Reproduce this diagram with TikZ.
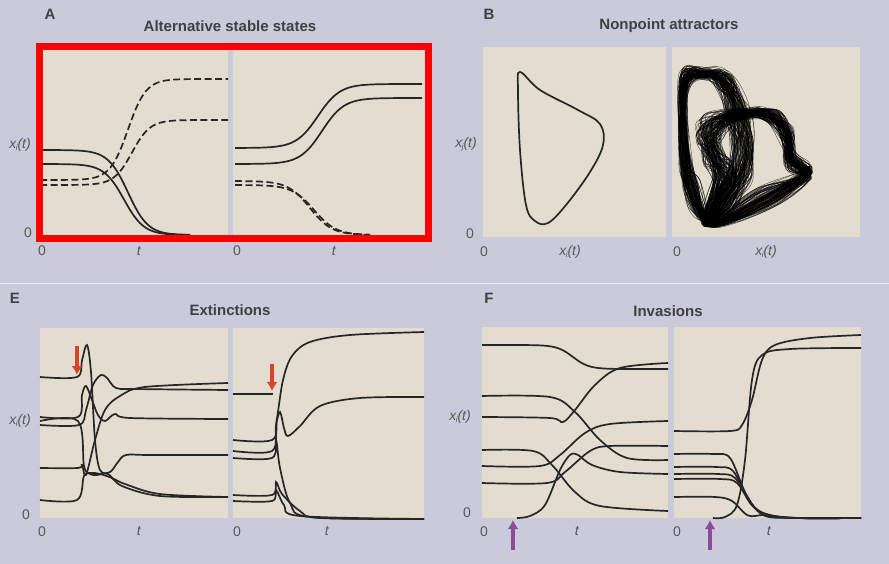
\documentclass[tikz,border=0pt]{standalone}
\usepackage{fontspec}
\setmainfont{Liberation Sans}
\usetikzlibrary{arrows.meta}
\newcommand\xlab[1]{\textit{x\kern-0.5pt\raisebox{-2pt}{\footnotesize #1}(t)}}
\begin{document}
\begin{tikzpicture}[x=1pt,y=-1pt,
  crv/.style={line width=1.7pt,draw=black!85},
  dsh/.style={crv,dash pattern=on 7pt off 3.5pt},
  lbl/.style={font=\fontsize{14}{14}\selectfont,text=black!65,inner sep=0pt},
  ttl/.style={font=\bfseries\fontsize{15}{15}\selectfont,text=black!75,inner sep=0pt},
  sm/.style={smooth,tension=0.55}]
\definecolor{bgc}{HTML}{CACADA}
\definecolor{panelbg}{HTML}{E3DDCF}
\definecolor{arr}{HTML}{D9432B}
\definecolor{parr}{HTML}{8E4A9B}
\useasboundingbox (0,0) rectangle (889,564);
\fill[bgc] (0,0) rectangle (889,564);
\draw[white!70!bgc,line width=1pt] (0,283) -- (889,283);
\newcommand\sigw[7]{\draw[#1] plot[domain=#2:#3,samples=70] (\x,{#4+(#5-#4)/(1+exp(min(max(-(\x-#6)/#7,-9),9)))});}
% panels
\foreach \a/\b/\c/\d in {40/47/228/235,233/47/427/235,483/47/666/237,672/47/860/237,40/328/228/518,233/328/424/518,482/327/668/518,674/327/861/518}
  \fill[panelbg] (\a,\b) rectangle (\c,\d);
% ===== A =====
\node[ttl] (la) at (50,14) {A};
\node[ttl] (ta) at (230,26) {Alternative stable states};
\sigw{crv}{40}{190}{150}{235}{128}{10}
\sigw{crv}{40}{190}{164}{235}{124}{10}
\sigw{dsh}{40}{228}{180}{79}{128}{9}
\sigw{dsh}{40}{228}{185}{120}{132}{9}
\sigw{crv}{235}{422}{148}{84}{318}{11}
\sigw{crv}{235}{422}{164}{98}{322}{11}
\sigw{dsh}{235}{370}{181}{235}{310}{11}
\sigw{dsh}{235}{370}{185}{235}{314}{11}
\draw[red,line width=7pt] (39,46.5) rectangle (428,239);
\node[lbl] (xa) at (20,145) {\xlab{i}};
\node[lbl] at (28,233) {0};
\node[lbl] at (42,251) {0};
\node[lbl] at (139,251) {\textit{t}};
\node[lbl] at (237,251) {0};
\node[lbl] at (334,251) {\textit{t}};
% ===== B =====
\node[ttl] (lb) at (489,14) {B};
\node[ttl] (tb) at (669,26) {Nonpoint attractors};
\draw[crv] plot[smooth cycle,tension=0.6] coordinates {(520,72)(540,90)(578,110)(600,124)(603,145)(590,172)(566,205)(548,223)(535,221)(526,205)(520,150)(518,90)};
\pgfmathsetseed{7}
\foreach \i in {1,...,110}{
 \draw[black,line width=0.35pt,opacity=0.75] plot[smooth cycle,tension=0.6] coordinates {({684+5*rand},{82+10*rand}) ({705+8*rand},{74+5*rand}) ({724+10*rand},{82+10*rand}) ({738+12*rand},{115+14*rand}) ({742+12*rand},{160+16*rand}) ({728+12*rand},{198+10*rand}) ({708+6*rand},{220+5*rand}) ({692+8*rand},{192+14*rand}) ({684+5*rand},{145+18*rand})};
 \draw[black,line width=0.35pt,opacity=0.75] plot[smooth cycle,tension=0.6] coordinates {({710+14*rand},{128+14*rand}) ({742+12*rand},{114+6*rand}) ({772+8*rand},{116+6*rand}) ({788+6*rand},{138+10*rand}) ({790+6*rand},{160+10*rand}) ({806+6*rand},{174+6*rand}) ({765+12*rand},{198+10*rand}) ({708+5*rand},{224+3*rand}) ({725+12*rand},{180+14*rand}) ({712+10*rand},{152+14*rand})};
}
\node[lbl] at (466,144) {\xlab{j}};
\node[lbl] at (470,234) {0};
\node[lbl] at (484,252) {0};
\node[lbl] at (570,252) {\xlab{i}};
\node[lbl] at (677,252) {0};
\node[lbl] at (766,252) {\xlab{i}};
% ===== E =====
\node[ttl] (le) at (15,298) {E};
\node[ttl] (te) at (230,310) {Extinctions};
\draw[crv] plot[sm] coordinates {(40,377)(77,377)(82,360)(87,345)(91,372)(95,440)(100,470)(110,472)(118,462)(126,455)(150,455)(228,455)};
\draw[crv] plot[sm] coordinates {(40,417)(78,417)(82,395)(86,386)(92,400)(98,415)(105,421)(115,414)(130,418)(228,419)};
\draw[crv] plot[sm] coordinates {(40,421)(78,421)(84,466)(90,474)(97,475)(108,474)(122,486)(160,496)(228,497)};
\draw[crv] plot[sm] coordinates {(40,425)(79,425)(86,410)(93,385)(101,375)(107,378)(116,388)(135,389)(228,390)};
\draw[crv] plot[sm] coordinates {(40,468)(78,468)(82,465)(86,475)(95,440)(105,410)(120,396)(145,387)(228,383)};
\draw[crv] plot[sm] coordinates {(40,500)(77,500)(84,476)(92,473)(100,474)(112,478)(125,484)(160,494)(228,497)};
\draw[arr,-{Latex[length=9pt,width=11pt]},line width=4pt] (77,346) -- (77,375);
\draw[crv] plot[sm] coordinates {(233,440)(272,440)(277,418)(283,380)(292,356)(310,342)(350,335)(424,332)};
\draw[crv] plot[sm] coordinates {(233,451)(272,451)(276,425)(280,412)(284,428)(288,436)(300,426)(320,406)(360,398)(424,397)};
\draw[crv] plot[sm] coordinates {(233,458)(272,458)(276,440)(280,468)(290,503)(310,517)(424,519)};
\draw[crv] plot[sm] coordinates {(233,495)(272,495)(276,482)(282,494)(300,511)(320,518)(424,519)};
\draw[crv] plot[sm] coordinates {(233,501)(272,501)(276,490)(284,505)(300,516)(424,519)};
\draw[crv] (233,394) -- (273,394);
\draw[arr,-{Latex[length=9pt,width=11pt]},line width=4pt] (272,364) -- (272,391);
\node[lbl] at (20,421) {\xlab{i}};
\node[lbl] at (26,515) {0};
\node[lbl] at (42,532) {0};
\node[lbl] at (139,531) {\textit{t}};
\node[lbl] at (237,532) {0};
\node[lbl] at (327,531) {\textit{t}};
% ===== F =====
\node[ttl] (lf) at (489,298) {F};
\node[ttl] (tf) at (668,311) {Invasions};
\sigw{crv}{482}{668}{345}{369}{573}{8}
\draw[crv] plot[sm] coordinates {(482,396)(550,397)(575,412)(600,440)(627,458)(668,460)};
\draw[crv] plot[sm] coordinates {(482,417)(550,418)(563,422)(575,410)(595,385)(620,368)(668,363)};
\draw[crv] plot[sm] coordinates {(482,450)(533,451)(552,465)(575,492)(600,506)(668,511)};
\draw[crv] plot[sm] coordinates {(482,466)(540,466)(560,455)(585,433)(610,424)(668,421)};
\draw[crv] plot[sm] coordinates {(482,483)(547,483)(565,472)(590,451)(610,446)(668,446)};
\draw[crv] plot[sm] coordinates {(517,518)(530,516)(545,505)(560,470)(570,455)(578,455)(592,465)(620,472)(668,474)};
\draw[parr,-{Latex[length=9pt,width=11pt]},line width=4pt] (513,550) -- (513,520);
\draw[crv] plot[sm] coordinates {(674,431)(730,431)(742,425)(752,400)(762,360)(775,345)(810,338)(861,335)};
\draw[crv] plot[sm] coordinates {(713,518)(725,517)(737,505)(745,460)(752,380)(762,355)(790,349)(861,348)};
\foreach \yy/\cc in {454/738,467/741,474/743,479/745,497/740}
  \draw[crv] plot[sm] coordinates {(674,\yy)({\cc-25},\yy)({\cc-8},{\yy+4})({\cc+8},{(\yy+518)/2+8})({\cc+25},515)({\cc+55},518)(861,518)};
\draw[parr,-{Latex[length=9pt,width=11pt]},line width=4pt] (710,550) -- (710,520);
\node[lbl] at (460,417) {\xlab{i}};
\node[lbl] at (467,513) {0};
\node[lbl] at (484,532) {0};
\node[lbl] at (577,531) {\textit{t}};
\node[lbl] at (677,532) {0};
\node[lbl] at (769,531) {\textit{t}};
\end{tikzpicture}
\end{document}
